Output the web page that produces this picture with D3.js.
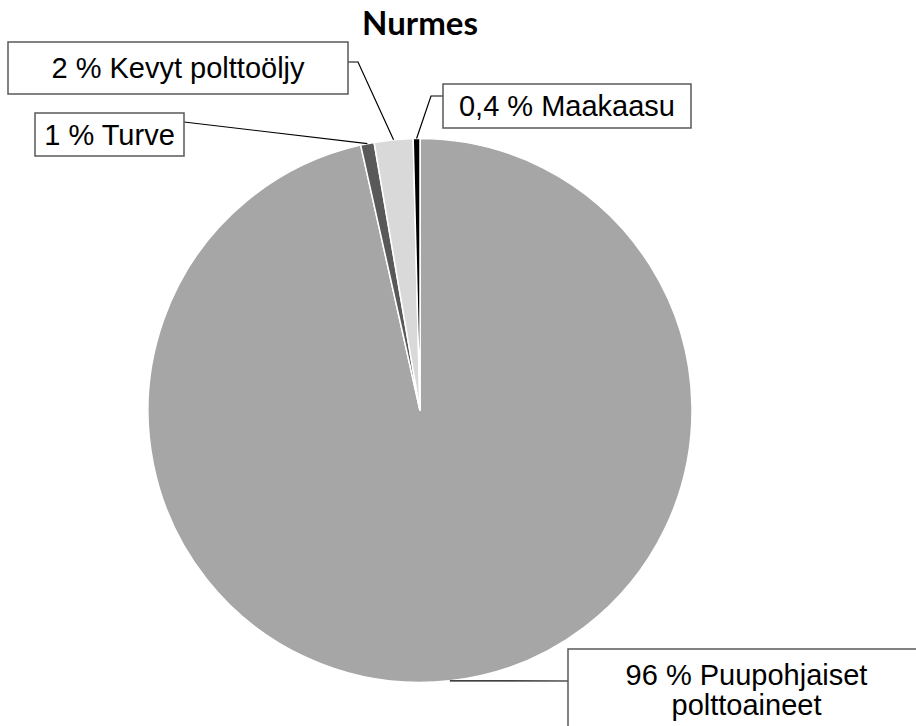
<!DOCTYPE html>
<html>
<head>
<meta charset="utf-8">
<script src="https://cdnjs.cloudflare.com/ajax/libs/d3/7.8.5/d3.min.js"></script>
<style>
  body { margin: 0; background: #fff; }
  svg { display: block; }
</style>
</head>
<body>
<svg id="main"></svg>
<script>
var width = 916, height = 726;

// data
var categories = ["Puupohjaiset polttoaineet", "Turve", "Kevyt polttoöljy", "Maakaasu"];
var values = [96.5, 0.8, 2.3, 0.4];
var percentLabels = ["96 %", "1 %", "2 %", "0,4 %"];
var colors = ["#a6a6a6", "#595959", "#d9d9d9", "#000000"];

var title = "Nurmes";

// label boxes (layout), one per slice
var boxes = [
  {x: 568, y: 649, w: 360, h: 100, lines: ["96 % Puupohjaiset", "polttoaineet"], anchorX: 568, anchorY: 681, elbow: null},
  {x: 35, y: 113, w: 149, h: 43, lines: ["1 % Turve"], anchorX: 184, anchorY: 122, elbow: null},
  {x: 8, y: 42, w: 340, h: 52, lines: ["2 % Kevyt polttoöljy"], anchorX: 348, anchorY: 62, elbow: 358},
  {x: 443, y: 84, w: 248, h: 44, lines: ["0,4 % Maakaasu"], anchorX: 443, anchorY: 96, elbow: 431}
];

var cx = 420, cy = 410.5, radius = 272;

var svg = d3.select("svg#main").attr("width", width).attr("height", height);

svg.append("text")
  .attr("x", 420).attr("y", 35)
  .attr("text-anchor", "middle")
  .style("font-family", "Lato, 'Open Sans', sans-serif")
  .style("font-weight", "bold")
  .style("font-size", "33px")
  .text(title);

var pie = d3.pie().sort(null).value(function (d) { return d; });
var arcs = pie(values);

var arc = d3.arc().innerRadius(0).outerRadius(radius);
var edgeArc = d3.arc().innerRadius(radius).outerRadius(radius);

var g = svg.append("g").attr("transform", "translate(" + cx + "," + cy + ")");

g.selectAll("path.slice")
  .data(arcs)
  .enter()
  .append("path")
  .attr("class", "slice")
  .attr("d", arc)
  .style("fill", function (d, i) { return colors[i]; })
  .style("stroke", "#fff")
  .style("stroke-width", 1.5);

// leader lines
arcs.forEach(function (d, i) {
  var b = boxes[i];
  var p = edgeArc.centroid(d);
  var pts = [[b.anchorX, b.anchorY]];
  if (b.elbow !== null) pts.push([b.elbow, b.anchorY]);
  pts.push([p[0] + cx, p[1] + cy]);
  svg.append("path")
    .attr("d", d3.line()(pts))
    .style("fill", "none")
    .style("stroke", "#000")
    .style("stroke-width", 1.2);
});

// label boxes
var lab = svg.selectAll("g.label")
  .data(boxes)
  .enter()
  .append("g")
  .attr("class", "label");

lab.append("rect")
  .attr("x", function (d) { return d.x; })
  .attr("y", function (d) { return d.y; })
  .attr("width", function (d) { return d.w; })
  .attr("height", function (d) { return d.h; })
  .style("fill", "#fff")
  .style("stroke", "#595959")
  .style("stroke-width", 1.5);

lab.each(function (d, i) {
  var t = d3.select(this).append("text")
    .attr("text-anchor", "middle")
    .style("font-family", "'Liberation Sans', Arial, sans-serif")
    .style("font-size", "29px")
    .style("fill", "#000");
  var bx = i === 0 ? 746.5 : d.x + d.w / 2;
  var by = i === 0 ? 685 : d.y + d.h / 2 + 10;
  d.lines.forEach(function (line, k) {
    t.append("tspan").attr("x", bx).attr("y", by + k * 30).text(line);
  });
});
</script>
</body>
</html>
